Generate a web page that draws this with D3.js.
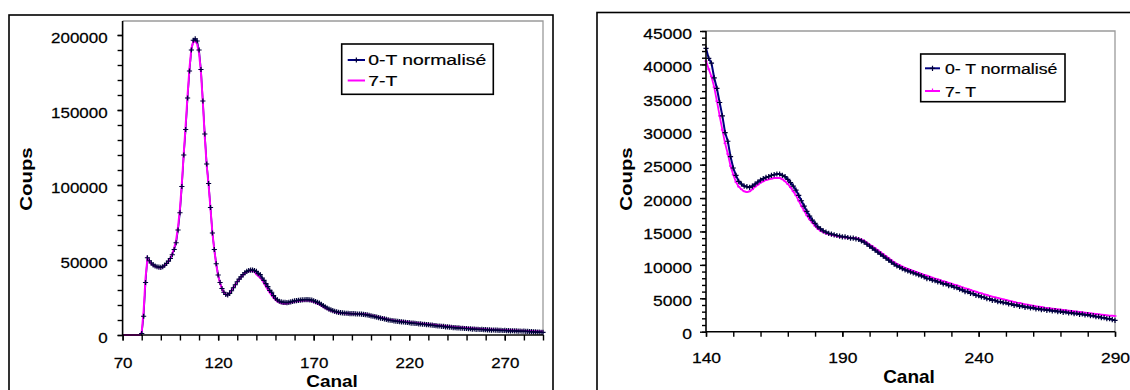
<!DOCTYPE html>
<html><head><meta charset="utf-8">
<script src="https://cdn.jsdelivr.net/npm/d3@7/dist/d3.min.js"></script>
<style>
body{margin:0;background:#fff;}
text{font-family:"Liberation Sans",Arial,sans-serif;fill:#000;}
</style>
</head><body>
<svg id="c" width="1130" height="390"></svg>
<script>
// ---- data (channel 70 .. 290, one value per channel) ----
const channels = d3.range(70, 291);
const zeroT = [
 null,null,null,null,null,null,null,null,null,null,
 1000,12500,35000,51500,49500,48000,46800,46000,45500,45200,
 45100,45500,46500,47800,49200,51000,53500,57000,61500,70000,
 81500,99000,120000,137000,158000,176000,190000,196500,197500,196000,
 190000,177000,156000,134000,114000,101000,85000,68000,57000,47500,
 40000,35000,31000,28500,27000,26800,27800,29500,31500,33500,
 35500,37200,38800,40200,41500,42400,43000,43300,43300,43000,
 42400,40900,40200,38000,36400,34300,32300,29800,28500,26200,
 24500,23400,22500,22100,21800,21700,21600,21800,22100,22400,
 22700,22900,23100,23200,23400,23500,23600,23600,23400,23200,
 22800,22300,21800,21200,20400,19600,18800,18000,17300,16700,
 16200,15700,15400,15100,14900,14700,14600,14500,14400,14300,
 14200,14200,14100,14000,14000,13900,13800,13600,13400,13100,
 12800,12500,12200,11900,11600,11300,11000,10700,10400,10100,
 9850,9650,9450,9250,9100,8950,8800,8650,8500,8350,
 8200,7950,7950,7700,7650,7450,7400,7150,7150,6900,
 6900,6650,6600,6350,6250,6000,6000,5750,5700,5450,
 5400,5200,5150,4950,4900,4700,4700,4500,4500,4350,
 4350,4150,4150,3950,4000,3800,3850,3650,3700,3550,
 3600,3400,3450,3300,3350,3200,3250,3100,3150,3000,
 3050,2900,2950,2800,2850,2700,2750,2600,2650,2500,
 2550,2400,2400,2250,2250,2100,2100,1950,1950,1800,1700
];
const sevenT = [
 0,0,0,0,0,0,0,0,0,0,
 2000,16000,38000,51000,49000,47500,46500,45800,45300,45000,
 45000,45300,46300,47600,49000,51000,54000,58000,63000,72000,
 84000,101000,121000,140000,160000,178000,191000,195500,196000,194000,
 188000,175000,155000,132000,113000,100000,84000,68000,56500,47000,
 39500,34500,31000,28300,27000,26900,27900,29700,31700,33600,
 35500,37100,38600,40000,41200,42100,42700,43000,42900,42300,
 40500,39300,38200,36600,34500,32300,30200,28200,26600,24800,
 23500,22400,21700,21300,21000,20900,21000,21300,21700,22000,
 22300,22500,22700,22800,22900,23000,23000,23000,22800,22500,
 22100,21600,21000,20400,19600,18800,18100,17400,16800,16300,
 15800,15400,15100,14900,14700,14600,14500,14400,14300,14200,
 14200,14100,14100,14000,14000,14000,13900,13800,13600,13300,
 13000,12800,12500,12200,11900,11600,11300,11000,10700,10400,
 10150,9950,9750,9550,9400,9250,9100,8950,8800,8650,
 8500,8400,8250,8100,7950,7850,7700,7550,7450,7300,
 7200,7050,6950,6800,6650,6500,6400,6250,6100,6000,
 5850,5750,5600,5500,5350,5250,5150,5050,4950,4850,
 4750,4650,4550,4450,4350,4300,4200,4100,4050,3950,
 3900,3800,3750,3700,3600,3550,3500,3450,3400,3350,
 3300,3250,3200,3150,3100,3050,3000,2950,2900,2850,
 2800,2750,2700,2650,2600,2550,2500,2450,2400,2400,2350
];
const seriesNames = ["0-T normalisé", "7-T"];
const seriesNamesRight = ["0- T normalisé", "7- T"];
const xTitle = "Canal";
const yTitle = "Coups";

const leftXTicks = [70, 120, 170, 220, 270];
const leftYTicks = [0, 50000, 100000, 150000, 200000];
const rightXTicks = [140, 190, 240, 290];
const rightYTicks = [0, 5000, 10000, 15000, 20000, 25000, 30000, 35000, 40000, 45000];
const leftXMinor = d3.range(70, 291, 10);
const leftYMinor = d3.range(0, 200001, 10000);
const rightXMinor = d3.range(140, 291, 10);
const rightYMinor = d3.range(0, 45001, 1000);

const rows = channels.map((c, i) => ({c, a: zeroT[i], b: sevenT[i]}));

const svg = d3.select("#c");
const NAVY = "#000080", MARK = "#00003a", PINK = "#ff00ff";
const plus = "M-2.6,0H2.6M0,-2.6V2.6";

function drawChart(cfg) {
  const g = svg.append("g");
  g.append("rect").attr("x", cfg.frame[0]).attr("y", cfg.frame[1])
    .attr("width", cfg.frame[2]).attr("height", cfg.frame[3])
    .attr("fill", "#fff").attr("stroke", "#000").attr("stroke-width", 1.6);

  const x = d3.scaleLinear().domain(cfg.xDomain).range([cfg.left, cfg.right]);
  const y = d3.scaleLinear().domain(cfg.yDomain).range([cfg.bottom, cfg.yTopTick]);

  g.append("path")
    .attr("d", `M${cfg.left},${cfg.top}H${cfg.right}V${cfg.bottom}`)
    .attr("fill", "none").attr("stroke", "#9a9a9a").attr("stroke-width", 1.3);

  const data = rows.filter(d => d.c >= cfg.xDomain[0] && d.c <= cfg.xDomain[1]);

  const lineA = d3.line().defined(d => d.a != null).x(d => x(d.c)).y(d => y(d.a));
  const lineB = d3.line().defined(d => d.b != null).x(d => x(d.c)).y(d => y(d.b));

  const drawA = () => g.append("path").datum(data).attr("d", lineA)
      .attr("fill", "none").attr("stroke", NAVY).attr("stroke-width", cfg.wA);
  const drawB = () => g.append("path").datum(data).attr("d", lineB)
      .attr("fill", "none").attr("stroke", PINK).attr("stroke-width", cfg.wB);
  if (cfg.pinkOnTop) { drawA(); drawB(); } else { drawB(); drawA(); }

  if (cfg.pinkMarks) {
    g.append("g").selectAll("path").data(data.filter(d => d.b != null)).join("path")
      .attr("transform", d => `translate(${x(d.c)},${y(d.b)})`)
      .attr("d", "M-1.5,0H1.5").attr("stroke", PINK).attr("stroke-width", 1.4);
  }
  g.append("g").selectAll("path").data(data.filter(d => d.a != null)).join("path")
    .attr("transform", d => `translate(${x(d.c)},${y(d.a)})`)
    .attr("d", plus).attr("stroke", MARK).attr("stroke-width", 1.2);

  g.append("g").attr("transform", `translate(${cfg.left},0)`)
    .call(d3.axisLeft(y).tickValues(cfg.yMinor).tickSize(cfg.yMinorLen).tickSizeOuter(0).tickFormat(""))
    .call(s => s.select(".domain").remove());
  g.append("g").attr("transform", `translate(0,${cfg.bottom})`)
    .call(d3.axisBottom(x).tickValues(cfg.xMinor).tickSize(cfg.xTickLen).tickSizeOuter(0).tickFormat(""))
    .call(s => s.select(".domain").remove());

  const sx = cfg.tickSx;
  const ya = g.append("g").attr("transform", `translate(${cfg.left},0)`)
    .call(d3.axisLeft(y).tickValues(cfg.yTicks).tickSize(cfg.yMajorLen).tickSizeOuter(0).tickFormat(d3.format("d")));
  ya.select(".domain").attr("d", `M0,${cfg.top}V${cfg.bottom}`);
  ya.selectAll("text").attr("x", -cfg.yLabelGap / sx).attr("dy", "0.47em")
    .attr("transform", `scale(${sx},1)`);

  const xa = g.append("g").attr("transform", `translate(0,${cfg.bottom})`)
    .call(d3.axisBottom(x).tickValues(cfg.xTicks).tickSize(cfg.xTickLen).tickSizeOuter(0).tickFormat(d3.format("d")));
  xa.select(".domain").attr("d", `M${cfg.left},0H${cfg.right}`);
  xa.selectAll("text").attr("y", cfg.xLabelBase).attr("dy", null)
    .attr("transform", `scale(${sx},1)`).attr("x", 0);

  [ya, xa].forEach(a => {
    a.attr("font-size", null).attr("font-family", null);
    a.select(".domain").attr("stroke", "#000").attr("stroke-width", 1.6);
    a.selectAll("text").style("font-size", cfg.tickFont + "px").attr("fill", "#000")
      .attr("stroke", "#000").attr("stroke-width", 0.25);
  });
  g.selectAll(".tick line").attr("stroke", "#000").attr("stroke-width", 1.4);

  g.append("text").attr("text-anchor", "middle")
    .attr("transform", `translate(${cfg.yTitlePos[0]},${cfg.yTitlePos[1]}) rotate(-90) scale(1.2,1)`)
    .style("font-size", "17px").style("font-weight", "bold").text(yTitle);
  g.append("text").attr("text-anchor", "middle")
    .attr("transform", `translate(${cfg.xTitlePos[0]},${cfg.xTitlePos[1]}) scale(${cfg.xTitleSx},1)`)
    .style("font-size", cfg.xTitleFont + "px").style("font-weight", "bold").text(xTitle);

  const L = cfg.legend;
  const lg = g.append("g");
  lg.append("rect").attr("x", L.x).attr("y", L.y).attr("width", L.w).attr("height", L.h)
    .attr("fill", "#fff").attr("stroke", "#000").attr("stroke-width", 1.6);
  L.names.forEach((name, i) => {
    const yy = L.rowY[i];
    lg.append("line").attr("x1", L.sx0).attr("x2", L.sx1).attr("y1", yy).attr("y2", yy)
      .attr("stroke", i === 0 ? NAVY : PINK).attr("stroke-width", 2);
    if (i === 0) {
      lg.append("path").attr("transform", `translate(${(L.sx0 + L.sx1) / 2},${yy})`)
        .attr("d", plus).attr("stroke", MARK).attr("stroke-width", 1.2);
    } else if (cfg.pinkMarks) {
      lg.append("path").attr("transform", `translate(${(L.sx0 + L.sx1) / 2},${yy})`)
        .attr("d", "M0,-2.5V0").attr("stroke", PINK).attr("stroke-width", 1.2);
    }
    lg.append("text").attr("transform", `translate(${L.tx},${L.base[i]}) scale(${L.textSx},1)`)
      .style("font-size", "15px").attr("stroke", "#000").attr("stroke-width", 0.2).text(name);
  });
}

drawChart({
  frame: [9, 15, 544, 400],
  xDomain: [70, 290], yDomain: [0, 200000],
  left: 122.6, right: 543, top: 21, bottom: 335, yTopTick: 35,
  xTicks: leftXTicks, yTicks: leftYTicks, xMinor: leftXMinor, yMinor: leftYMinor,
  yMajorLen: 5, yMinorLen: 5, xTickLen: 5.5,
  tickSx: 1.13, tickFont: 15, yLabelGap: 15, xLabelBase: 33.5,
  wA: 1.6, wB: 2, pinkOnTop: true, pinkMarks: false,
  yTitlePos: [31.5, 179], xTitlePos: [332, 386.5], xTitleSx: 1.15, xTitleFont: 16.5,
  legend: {x: 341.7, y: 44, w: 151.6, h: 50.3, sx0: 347.7, sx1: 365, tx: 368.3,
    rowY: [60, 80.5], base: [65, 85.5], names: seriesNames, textSx: 1.29}
});

drawChart({
  frame: [597, 12.5, 560, 400],
  xDomain: [140, 290], yDomain: [0, 45000],
  left: 706, right: 1115, top: 31, bottom: 331.7, yTopTick: 31,
  xTicks: rightXTicks, yTicks: rightYTicks, xMinor: rightXMinor, yMinor: rightYMinor,
  yMajorLen: 6, yMinorLen: 4, xTickLen: 5,
  tickSx: 1.13, tickFont: 15.5, yLabelGap: 14, xLabelBase: 31.5,
  wA: 2, wB: 1.8, pinkOnTop: false, pinkMarks: true,
  yTitlePos: [632, 179], xTitlePos: [909, 383], xTitleSx: 1.0, xTitleFont: 19,
  legend: {x: 920.7, y: 54, w: 144.3, h: 47.7, sx0: 925, sx1: 940, tx: 945,
    rowY: [68.3, 91], base: [73.5, 96.5], names: seriesNamesRight, textSx: 1.18}
});
</script>
</body></html>
